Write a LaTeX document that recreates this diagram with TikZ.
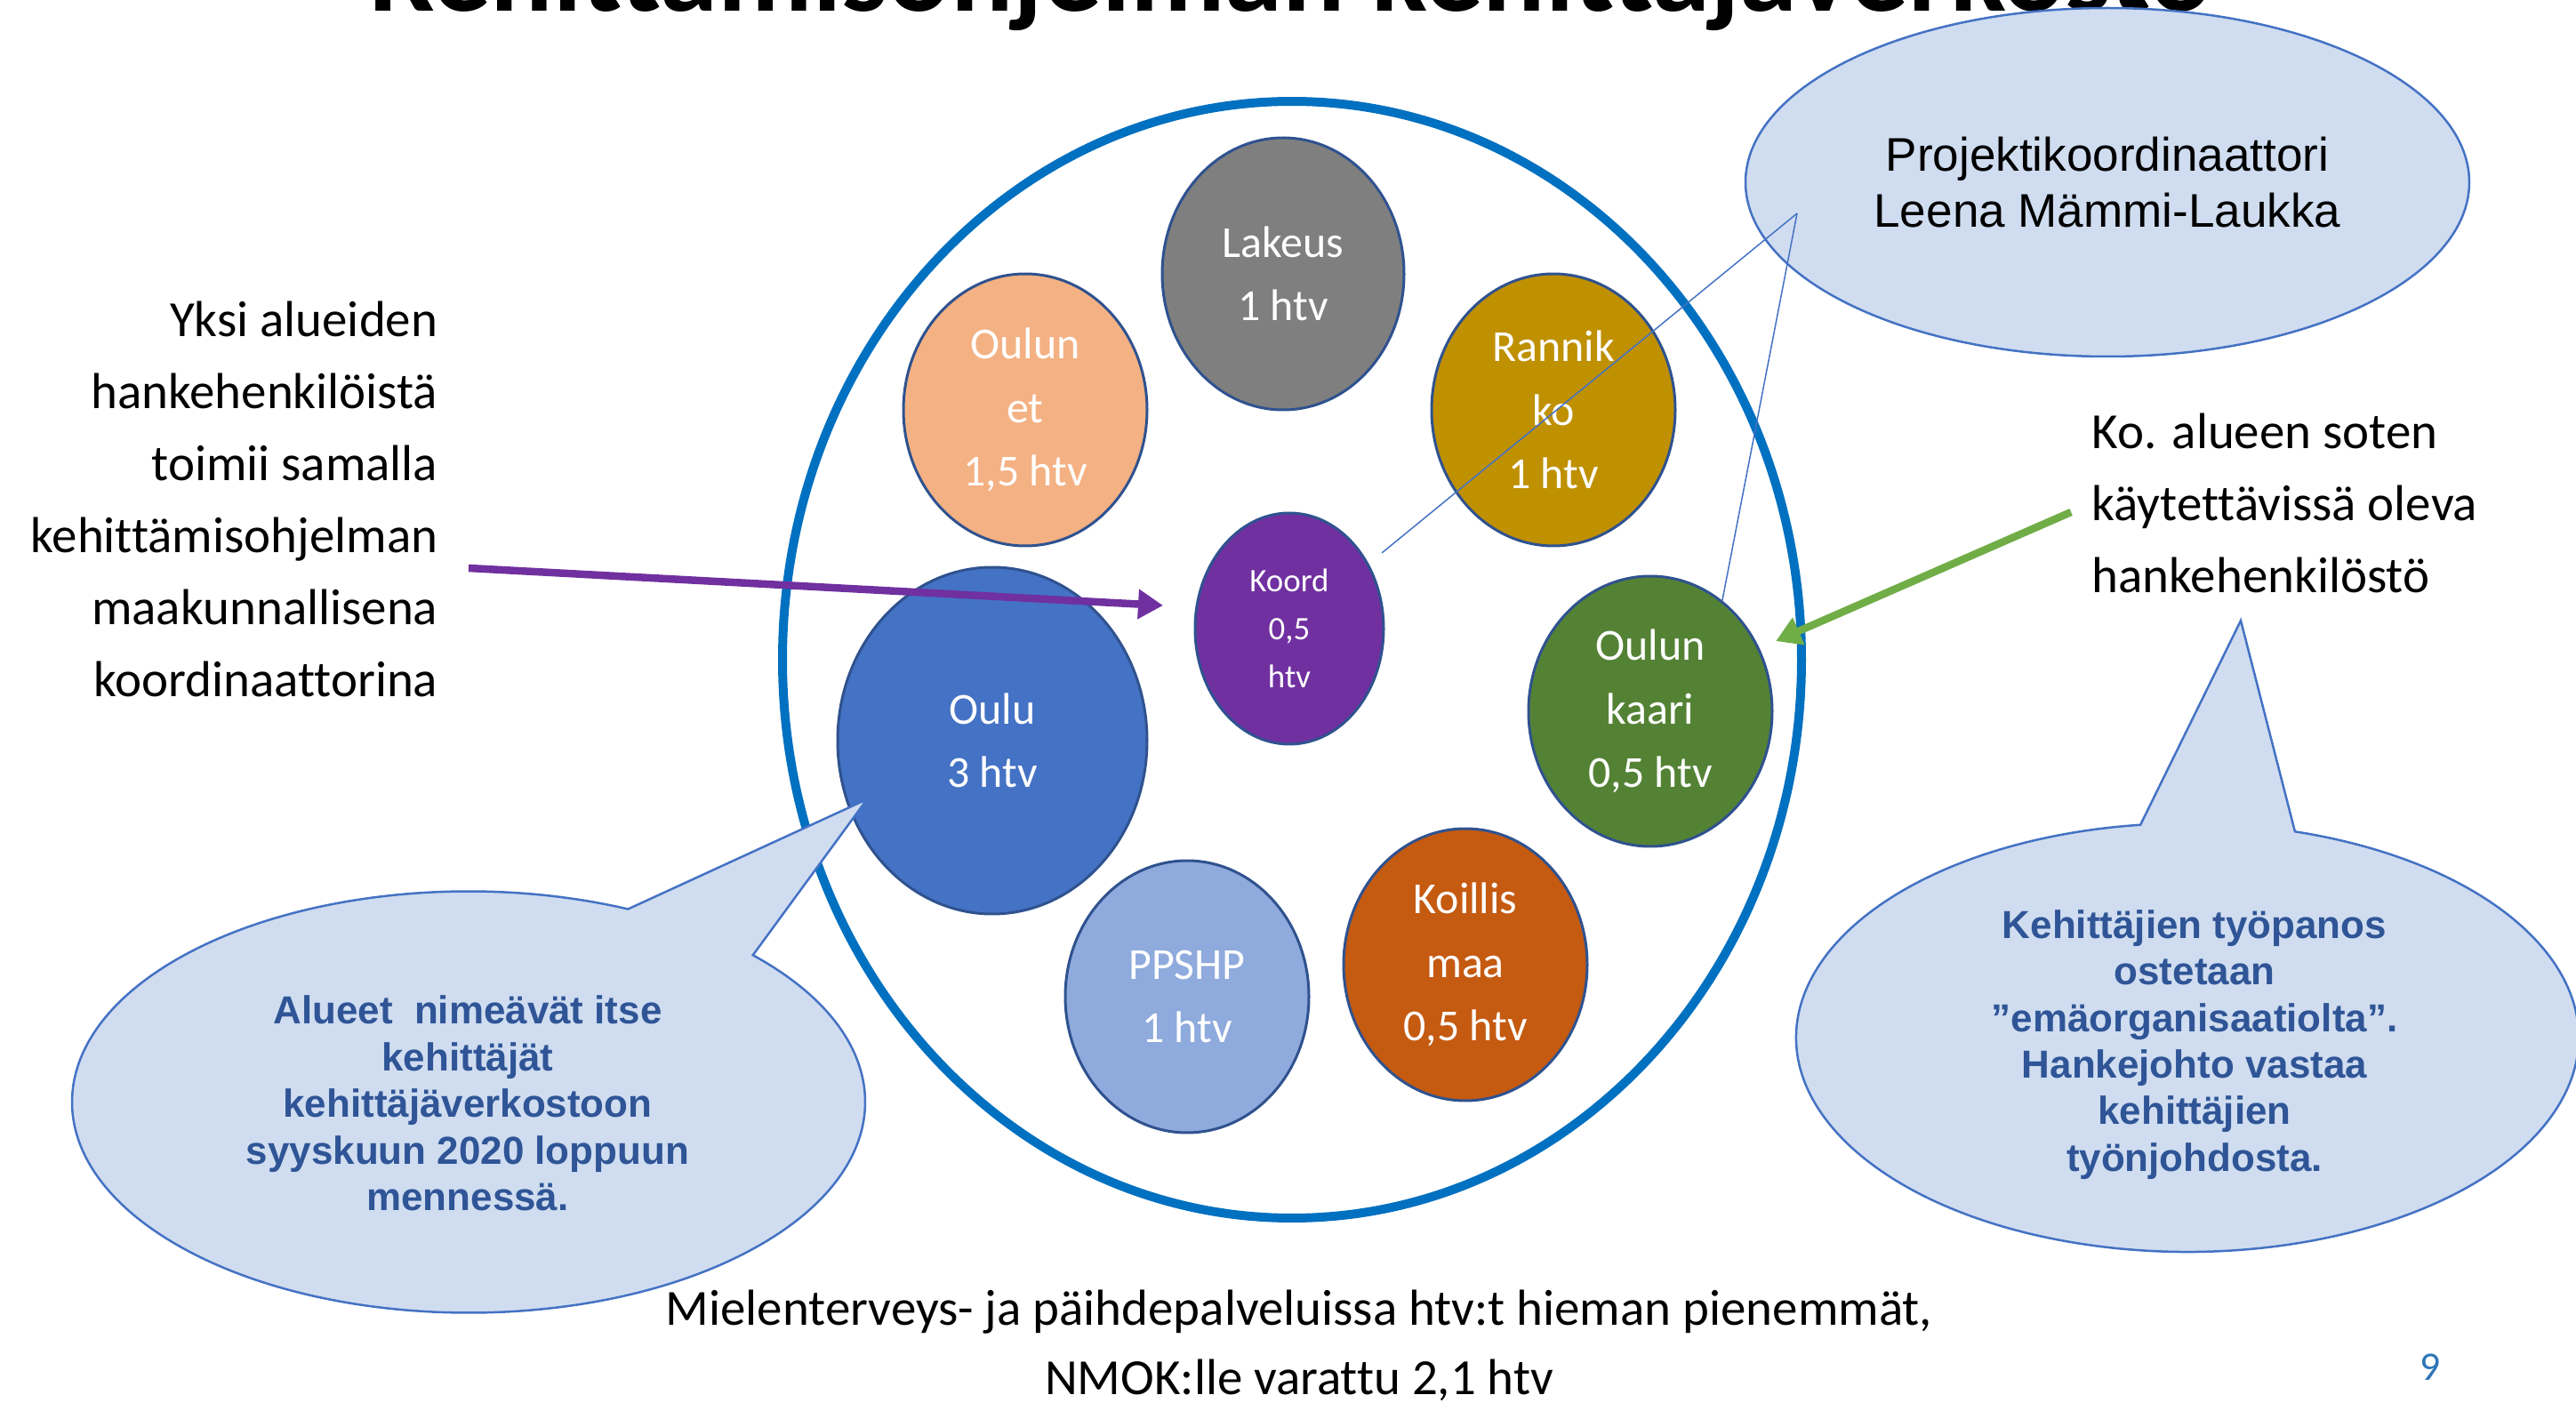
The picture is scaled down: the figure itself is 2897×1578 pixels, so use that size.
\documentclass[tikz,border=0pt]{standalone}
\usepackage{fontspec}
\setmainfont{Carlito}[Ligatures=NoCommon]
\newfontfamily\arialfont{Liberation Sans}
\usetikzlibrary{shapes.geometric,arrows.meta}
\definecolor{ringBlue}{HTML}{0070C0}
\definecolor{edgeBlue}{HTML}{2F528F}
\definecolor{cOulunet}{HTML}{F4B183}
\definecolor{cLakeus}{HTML}{7F7F7F}
\definecolor{cRannikko}{HTML}{BF9000}
\definecolor{cKoord}{HTML}{7030A0}
\definecolor{cOulu}{HTML}{4472C4}
\definecolor{cKaari}{HTML}{548235}
\definecolor{cPPSHP}{HTML}{8FAADC}
\definecolor{cKoillis}{HTML}{C55A11}
\definecolor{calloutFill}{HTML}{D0DDF0}
\definecolor{calloutEdge}{HTML}{4472C4}
\definecolor{calloutInk}{HTML}{2F5597}
\definecolor{arrowPurple}{HTML}{7030A0}
\definecolor{arrowGreen}{HTML}{70AD47}
\definecolor{pageBlue}{HTML}{2E75B6}
\begin{document}
\begin{tikzpicture}[x=0.1mm, y=-0.1mm,
  region/.style={ellipse, draw=edgeBlue, line width=0.3mm, inner sep=0pt,
    text=white, align=center, minimum width=27.4mm, minimum height=30.6mm,
    font=\fontsize{14.2pt}{20.3pt}\selectfont},
  ring/.style={ellipse, draw=ringBlue, line width=1mm, inner sep=0pt,
    minimum width=114.6mm, minimum height=125.6mm},
  sidetext/.style={inner sep=0pt, font=\fontsize{16.2pt}{23.05pt}\selectfont},
  calloutshape/.style={fill=calloutFill, draw=calloutEdge, line width=0.25mm},
  callouttext/.style={inner sep=0pt, align=center, text=calloutInk,
    font=\arialfont\bfseries\fontsize{12.5pt}{14.9pt}\selectfont},
  fatarrow/.style={line width=0.85mm, -{Triangle[length=2.8mm,width=3.2mm]}},
  thinline/.style={draw=calloutEdge, line width=0.15mm}
]
\useasboundingbox (0,0) rectangle (2897,1578);
\clip (0,0) rectangle (2897,1578);

% title (only its lower part is inside the picture)
\node[anchor=base west, inner sep=0pt, font=\bfseries\fontsize{37.3pt}{40pt}\selectfont]
  (title) at (416,13) {Kehittämisohjelman kehittäjäverkosto};

% big ring
\node[ring] (ring) at (1453,742) {};

% regions
\node[region, fill=cOulunet] (oulunet) at (1153,461) {Oulun\\et\\1,5 htv};
\node[region, fill=cLakeus, minimum width=27.2mm] (lakeus) at (1443,308) {Lakeus\\1 htv};
\node[region, fill=cRannikko] (rannikko) at (1747,461) {Rannik\\ko\\1 htv};
\node[region, fill=cKoord, minimum width=21.2mm, minimum height=26mm,
  font=\fontsize{10.5pt}{15.4pt}\selectfont] (koord) at (1450,707) {Koord\\0,5\\htv};
\node[region, fill=cOulu, minimum width=34.8mm, minimum height=39mm] (oulu) at (1116,833) {Oulu\\3 htv};
\node[region, fill=cKaari, minimum height=30.4mm] (kaari) at (1856,800) {Oulun\\kaari\\0,5 htv};
\node[region, fill=cPPSHP] (ppshp) at (1335,1121) {PPSHP\\1 htv};
\node[region, fill=cKoillis] (koillis) at (1648,1085) {Koillis\\maa\\0,5 htv};

% side texts
\node[sidetext, align=right, anchor=east] (yksi) at (493,561)
  {Yksi alueiden\\hankehenkilöistä\\toimii samalla\\kehittämisohjelman\\maakunnallisena\\koordinaattorina};
\node[sidetext, align=left, anchor=west] (kotext) at (2352,566)
  {Ko. alueen soten\\käytettävissä oleva\\hankehenkilöstö};
\node[sidetext, align=center, font=\fontsize{16.2pt}{22.2pt}\selectfont] (bottomtext) at (1461,1513)
  {Mielenterveys- ja päihdepalveluissa htv:t hieman pienemmät,\\NMOK:lle varattu 2,1 htv};
\node[anchor=base, inner sep=0pt, text=pageBlue, font=\fontsize{13pt}{15pt}\selectfont] (pagenum) at (2733,1552) {9};

% arrows
\coordinate (purpleStart) at (527,639);
\coordinate (purpleEnd) at (1308,681);
\draw[fatarrow, draw=arrowPurple, fill=arrowPurple] (purpleStart) -- (purpleEnd);
\draw[fatarrow, draw=arrowGreen, fill=arrowGreen, shorten <=2.5mm, shorten >=2mm] (kotext.west) -- (kaari.30);

% left callout
\coordinate (lcC) at (527,1239.5);
\coordinate (lcTip) at (975,899);
\path[calloutshape] (lcC) ++(-44.2:446 and 237)
  arc[start angle=-44.2, end angle=293.7, x radius=446, y radius=237] -- (lcTip) -- cycle;
\node[callouttext] (alueet) at (526,1241)
  {Alueet~ nimeävät itse\\kehittäjät\\kehittäjäverkostoon\\syyskuun 2020 loppuun\\mennessä.};

% right callout
\coordinate (rcC) at (2460,1167);
\coordinate (rcTip) at (2520,698);
\path[calloutshape] (rcC) ++(-74.05:440 and 241)
  arc[start angle=-74.05, end angle=263.1, x radius=440, y radius=241] -- (rcTip) -- cycle;
\node[callouttext] (kehittajien) at (2468,1175)
  {Kehittäjien työpanos\\ostetaan\\”emäorganisaatiolta”.\\Hankejohto vastaa\\kehittäjien\\työnjohdosta.};

% top-right callout
\node[ellipse, calloutshape, inner sep=0pt, minimum width=81.4mm, minimum height=39.2mm,
  align=center, font=\arialfont\fontsize{15.1pt}{17.9pt}\selectfont] (pk) at (2370,205)
  {Projektikoordinaattori\\Leena Mämmi-Laukka};
\coordinate (pkTail) at (2021,240);
\draw[thinline, shorten >=1.9mm] (pkTail) -- (koord);
\draw[thinline] (pkTail) -- (kaari.57);
\end{tikzpicture}
\end{document}
